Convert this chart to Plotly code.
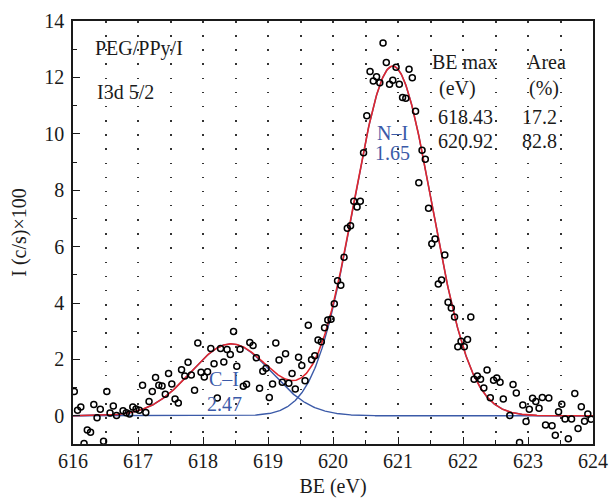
import numpy as np
import plotly.graph_objects as go

# ---- data ----
be = [616.02, 616.07, 616.12, 616.17, 616.22, 616.27, 616.32, 616.37, 616.42, 616.47,
      616.52, 616.57, 616.62, 616.67, 616.77, 616.82, 616.87, 616.92, 616.97,
      617.02, 617.07, 617.12, 617.17, 617.22, 617.27, 617.32, 617.37, 617.42, 617.47,
      617.52, 617.57, 617.62, 617.67, 617.72, 617.77, 617.82, 617.87, 617.92, 617.97,
      618.02, 618.07, 618.12, 618.17, 618.22, 618.27, 618.32, 618.37, 618.42, 618.47,
      618.52, 618.57, 618.62, 618.67, 618.72, 618.77, 618.82, 618.87, 618.92, 618.97,
      619.02, 619.07, 619.12, 619.17, 619.22, 619.27, 619.32, 619.37, 619.42, 619.47,
      619.52, 619.57, 619.62, 619.67, 619.72, 619.77, 619.82, 619.87, 619.92, 619.97,
      620.02, 620.07, 620.12, 620.17, 620.22, 620.27, 620.32, 620.37, 620.42, 620.47,
      620.52, 620.57, 620.62, 620.67, 620.72, 620.77, 620.82, 620.87, 620.92, 620.97,
      621.02, 621.07, 621.12, 621.17, 621.22, 621.27, 621.32, 621.37, 621.42, 621.47,
      621.52, 621.57, 621.62, 621.67, 621.72, 621.77, 621.82, 621.87, 621.92, 621.97,
      622.02, 622.07, 622.12, 622.17, 622.22, 622.27, 622.32, 622.37, 622.42, 622.47,
      622.52, 622.57, 622.62, 622.72, 622.77, 622.82, 622.87, 622.92, 622.97,
      623.02, 623.07, 623.12, 623.17, 623.22, 623.27, 623.32, 623.37, 623.42, 623.47,
      623.52, 623.57, 623.62, 623.67, 623.72, 623.77, 623.82, 623.87, 623.92, 623.97]
intensity = [0.86, 0.20, 0.31, -0.98, -0.50, -0.58, 0.40, -0.07, 0.23, -0.90,
             0.86, 0.10, 0.35, 0.01, 0.18, 0.11, 0.06, 0.31, 0.24,
             0.20, 1.08, 0.12, 0.51, 0.86, 1.36, 1.08, 1.06, 0.76, 1.50,
             1.13, 0.60, 0.45, 1.63, 1.41, 1.90, 1.45, 0.91, 2.58, 1.54,
             1.38, 1.56, 2.39, 1.85, 0.63, 2.39, 1.91, 2.35, 2.17, 2.99,
             1.76, 2.36, 1.05, 1.12, 2.60, 2.49, 2.06, 0.98, 1.58, 1.69,
             0.65, 1.13, 2.58, 1.98, 1.19, 2.20, 1.15, 1.50, 0.95, 2.08,
             1.78, 1.24, 3.21, 1.99, 2.13, 2.69, 2.63, 3.12, 3.40, 3.42,
             3.97, 4.79, 4.63, 5.62, 6.65, 6.74, 7.61, 7.40, 7.61, 9.33,
             10.64, 12.21, 11.87, 12.02, 11.81, 13.22, 12.53, 11.76, 11.90, 12.36,
             11.76, 11.29, 11.26, 12.29, 11.99, 10.80, 8.26, 9.42, 9.10, 7.36,
             6.10, 6.27, 4.67, 4.82, 5.70, 4.03, 3.82, 3.50, 2.45, 2.64,
             2.45, 2.71, 3.50, 1.30, 1.41, 1.30, 0.99, 1.62, 0.64, 1.26,
             1.34, 1.19, 0.60, 0.01, 1.11, 0.81, -0.95, 0.38, -0.20,
             0.23, 0.62, 0.51, 0.27, 0.65, -0.33, 0.63, -0.35, -0.69, 0.14,
             0.41, -0.11, -0.81, -0.11, 0.79, -0.45, 0.32, -0.19, 0.06, -0.12]

# fitted components (Gaussian parameters)
peak_names = ["C\u2013I", "N\u2013I"]
peak_centers = [618.43, 620.92]
peak_heights = [2.55, 12.40]
peak_sigmas = [0.62, 0.60]
peak_fwhm_labels = ["2.47", "1.65"]
table_be = ["618.43", "620.92"]
table_area = ["17.2", "82.8"]

RED = "#e0262e"
BLUE = "#3b5aa8"
INK = "#1a1a1a"
FONT = "Liberation Serif"

xs = np.linspace(616, 624, 801)
comps = [h * np.exp(-(xs - c) ** 2 / (2 * s ** 2))
         for c, h, s in zip(peak_centers, peak_heights, peak_sigmas)]
total = comps[0] + comps[1]

fig = go.Figure()
for comp in comps:
    fig.add_trace(go.Scatter(x=xs, y=comp, mode="lines",
                             line=dict(color=BLUE, width=1.4), hoverinfo="skip"))
fig.add_trace(go.Scatter(x=xs, y=total, mode="lines",
                         line=dict(color=RED, width=1.6), hoverinfo="skip"))
fig.add_trace(go.Scatter(x=be, y=intensity, mode="markers",
                         marker=dict(symbol="circle-open", size=6,
                                     color="black", line=dict(width=1.5, color="black"))))

def ann(x, y, text, color=INK, anchor="left"):
    fig.add_annotation(x=x, y=y, xref="x", yref="y", text=text, showarrow=False,
                       xanchor=anchor, yanchor="middle",
                       font=dict(family=FONT, size=20, color=color))

ann(616.30, 13.03, "PEG/PPy/I")
ann(616.34, 11.48, "I3d 5/2")
ann(621.49, 12.55, "BE max")
ann(622.96, 12.55, "Area")
ann(621.60, 11.60, "(eV)")
ann(622.98, 11.60, "(%)")
ann(621.59, 10.60, table_be[0])
ann(622.88, 10.60, table_area[0])
ann(621.59, 9.76, table_be[1])
ann(622.87, 9.76, table_area[1])
ann(peak_centers[1], 10.02, peak_names[1], BLUE, "center")
ann(peak_centers[1], 9.32, peak_fwhm_labels[1], BLUE, "center")
ann(618.32, 1.31, peak_names[0], BLUE, "center")
ann(618.33, 0.41, peak_fwhm_labels[0], BLUE, "center")

dotgrid = dict(gridcolor="#333333", gridwidth=1.5, griddash="1.5px,12.65px")

fig.update_xaxes(range=[616, 624], tick0=616, dtick=1, ticks="inside", ticklen=7,
                 tickwidth=1.3, tickcolor=INK, showline=True, linewidth=1.6,
                 linecolor=INK, mirror=True, zeroline=False, showgrid=True, **dotgrid,
                 minor=dict(dtick=0.5, ticks="inside", ticklen=4, tickwidth=1.2,
                            tickcolor=INK, showgrid=True, **dotgrid),
                 automargin=False, ticklabelstandoff=-2,
                 tickfont=dict(family=FONT, size=20, color=INK),
                 title=dict(text="BE (eV)", font=dict(family=FONT, size=20, color=INK),
                            standoff=8))
fig.update_yaxes(range=[-1, 14], tick0=0, dtick=2, ticks="inside", ticklen=7,
                 tickwidth=1.3, tickcolor=INK, showline=True, linewidth=1.6,
                 linecolor=INK, mirror=True, zeroline=False, showgrid=False,
                 minor=dict(dtick=1, ticks="inside", ticklen=4, tickwidth=1.2,
                            tickcolor=INK, showgrid=False),
                 automargin=False, ticklabelstandoff=3,
                 tickfont=dict(family=FONT, size=20, color=INK),
                 title=dict(text="I (c/s)\u00d7100", font=dict(family=FONT, size=20, color=INK),
                            standoff=12))

fig.update_layout(width=609, height=503, margin=dict(l=73, r=16, t=21, b=59, autoexpand=False),
                  paper_bgcolor="white", plot_bgcolor="white", showlegend=False,
                  font=dict(family=FONT, size=20, color=INK))

fig.write_html("out.html")
